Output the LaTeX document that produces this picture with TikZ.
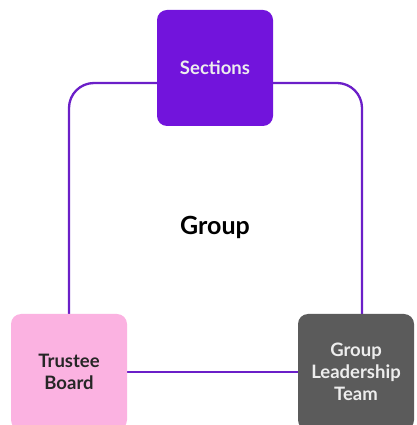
\documentclass[tikz,border=0pt]{standalone}
\usepackage{fontspec}
\setmainfont{Lato}
\usetikzlibrary{positioning,backgrounds}
\definecolor{secpurple}{HTML}{7214DC}
\definecolor{looppurple}{HTML}{6B1FC8}
\definecolor{trustpink}{HTML}{FBB2E1}
\definecolor{gltgray}{HTML}{5B5B5B}
\begin{document}
\begin{tikzpicture}[
	x=1pt, y=1pt,
	box/.style = {
		draw=none,
		rounded corners=10pt,
		minimum width=116pt,
		minimum height=116pt,
		align=center,
		font=\fontsize{18.5}{22}\selectfont\bfseries,
	},
	loop/.style={looppurple, line width=2.3pt, rounded corners=25pt},
]
\useasboundingbox (0,0) rectangle (416,425);

% Boxes
\node [box, fill=secpurple, text=white!93!black] (sec) at (215,357) {Sections};
\node [box, fill=trustpink, text=black!85] (trust) at (69,53) {Trustee\\Board};
\node [box, fill=gltgray, text=white!93!black] (glt) at (356,53) {Group\\Leadership\\Team};

% label in the middle
\node [font=\fontsize{25}{28}\selectfont\bfseries] (grp) at (215,198) {Group};

% Loop lines behind the boxes
\begin{scope}[on background layer]
\draw[loop] (trust.north) |- ([yshift=-15pt]sec.west);
\draw[loop] ([yshift=-15pt]sec.east) -| ([xshift=6pt]glt.north);
\draw[loop] (trust.east) -- (glt.west);
\end{scope}

\end{tikzpicture}
\end{document}
